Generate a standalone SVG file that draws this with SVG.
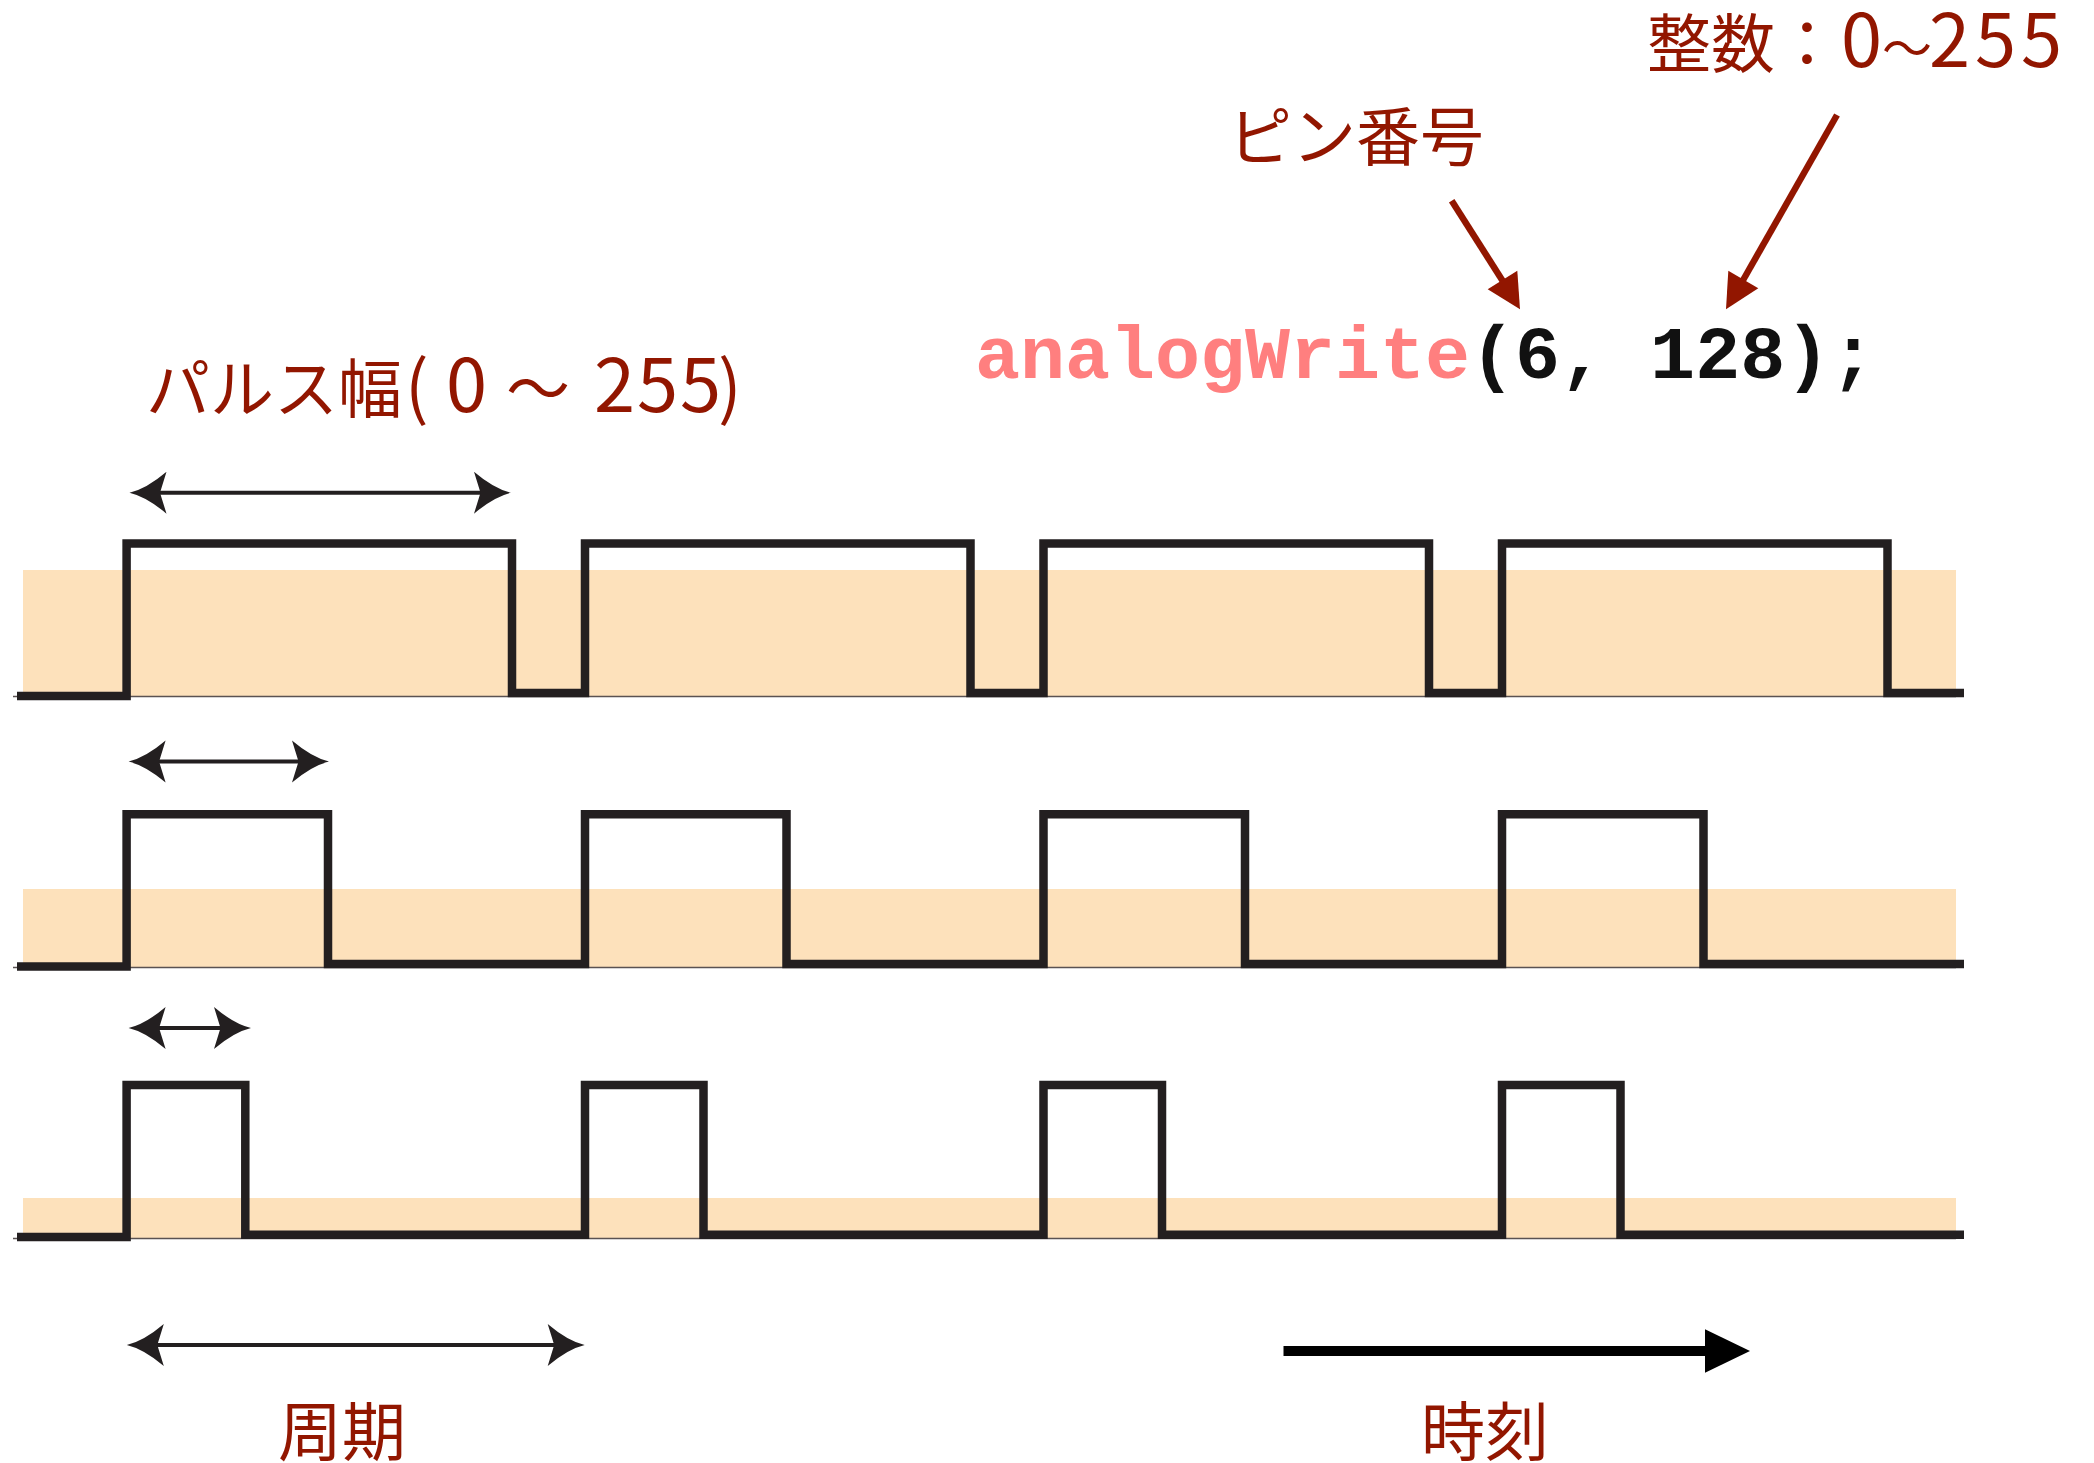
<svg xmlns="http://www.w3.org/2000/svg" xmlns:xlink="http://www.w3.org/1999/xlink" width="2094" height="1463" viewBox="0 0 2094 1463">
<style>
.band{fill:#FDE1BB}
.base{stroke:#5a5252;stroke-width:1.5;fill:none}
.wave{fill:none;stroke:#231F20;stroke-width:8.5;stroke-linejoin:miter;stroke-linecap:butt}
.shaft{stroke:#231F20;stroke-width:4;fill:none}
.head{fill:#231F20}
.red{stroke:#921600;stroke-width:6.5;fill:none}
.redhead{fill:#921600}
.lbl{font-family:"Noto Sans CJK JP","Noto Sans",sans-serif;font-size:64px;fill:#921600}
.dg{font-size:74px}
.code{font-family:"Liberation Mono","Courier New",monospace;font-weight:bold;font-size:75px;fill:#111}
</style>
<defs>
<path id="ahL" d="M0,0 Q17,4 37,21 L30.5,0 L37,-21 Q17,-4 0,0 Z"/>
<path id="ahR" d="M0,0 Q-17,4 -37,21 L-30.5,0 L-37,-21 Q-17,-4 0,0 Z"/>
</defs>
<rect width="2094" height="1463" fill="#fff"/>

<g id="bands">
<rect class="band" x="23" y="570" width="1933" height="127"/>
<rect class="band" x="23" y="889" width="1933" height="79"/>
<rect class="band" x="23" y="1198" width="1933" height="41"/>
<line class="base" x1="13" y1="696.5" x2="1956" y2="696.5"/>
<line class="base" x1="13" y1="967.5" x2="1956" y2="967.5"/>
<line class="base" x1="13" y1="1238.5" x2="1956" y2="1238.5"/>
</g>

<g id="wave1">
<path class="wave" d="M17,696 H126.6 V543.5 H512 V693 H585 V543.5 H970.5 V693 H1043.5 V543.5 H1429 V693 H1502 V543.5 H1887.5 V693 H1964"/>
</g>
<g id="wave2">
<path class="wave" d="M17,966.5 H126.6 V814.3 H328 V964 H585 V814.3 H786.5 V964 H1043.5 V814.3 H1245 V964 H1502 V814.3 H1703.5 V964 H1964"/>
</g>
<g id="wave3">
<path class="wave" d="M17,1237 H126.6 V1085 H245.3 V1234.8 H585 V1085 H703.5 V1234.8 H1043.5 V1085 H1162 V1234.8 H1502 V1085 H1620.5 V1234.8 H1964"/>
</g>

<g id="label-pulse">
<text class="lbl" y="412"><tspan x="146">パルス幅</tspan><tspan x="405" style="font-size:70px">( </tspan><tspan class="dg" x="446">0 </tspan><tspan x="506">〜 </tspan><tspan class="dg" x="594 637 680">255</tspan><tspan x="718" style="font-size:70px">)</tspan></text>
</g>
<g id="label-pin">
<text class="lbl" x="1228" y="160">ピン番号</text>
</g>
<g id="label-int">
<text class="lbl" y="67"><tspan x="1647">整数：</tspan><tspan class="dg" x="1841">0</tspan><tspan style="font-size:50px" x="1882">〜</tspan><tspan class="dg" x="1929 1975 2021">255</tspan></text>
</g>
<g id="code">
<text class="code" x="975" y="378"><tspan fill="#FF7F7F">analogWrite</tspan>(6, 128);</text>
</g>
<g id="label-period">
<text class="lbl" x="278" y="1455">周期</text>
</g>
<g id="label-time">
<text class="lbl" x="1421" y="1455">時刻</text>
</g>

<g id="connectors">
<line class="shaft" x1="158" y1="492.7" x2="482" y2="492.7"/>
<use xlink:href="#ahL" class="head" transform="translate(129.5,492.7)"/>
<use xlink:href="#ahR" class="head" transform="translate(511,492.7)"/>

<line class="shaft" x1="157" y1="761.6" x2="300" y2="761.6"/>
<use xlink:href="#ahL" class="head" transform="translate(128.6,761.6)"/>
<use xlink:href="#ahR" class="head" transform="translate(329,761.6)"/>

<line class="shaft" x1="157" y1="1028" x2="222" y2="1028"/>
<use xlink:href="#ahL" class="head" transform="translate(128.6,1028)"/>
<use xlink:href="#ahR" class="head" transform="translate(251,1028)"/>

<line class="shaft" x1="155" y1="1345" x2="556" y2="1345"/>
<use xlink:href="#ahL" class="head" transform="translate(126.8,1345)"/>
<use xlink:href="#ahR" class="head" transform="translate(584.7,1345)"/>

<line x1="1283.5" y1="1351" x2="1707" y2="1351" stroke="#000" stroke-width="10"/>
<polygon points="1705,1329.2 1750,1351 1705,1372.8" fill="#000"/>

<line class="red" x1="1451.7" y1="200.7" x2="1504" y2="283"/>
<polygon class="redhead" points="1520,309.3 1487.7,289.3 1517.3,270.7"/>
<line class="red" x1="1837" y1="115" x2="1742" y2="282"/>
<polygon class="redhead" points="1726,309.3 1728.3,270.7 1758.3,288.3"/>
</g>
</svg>
